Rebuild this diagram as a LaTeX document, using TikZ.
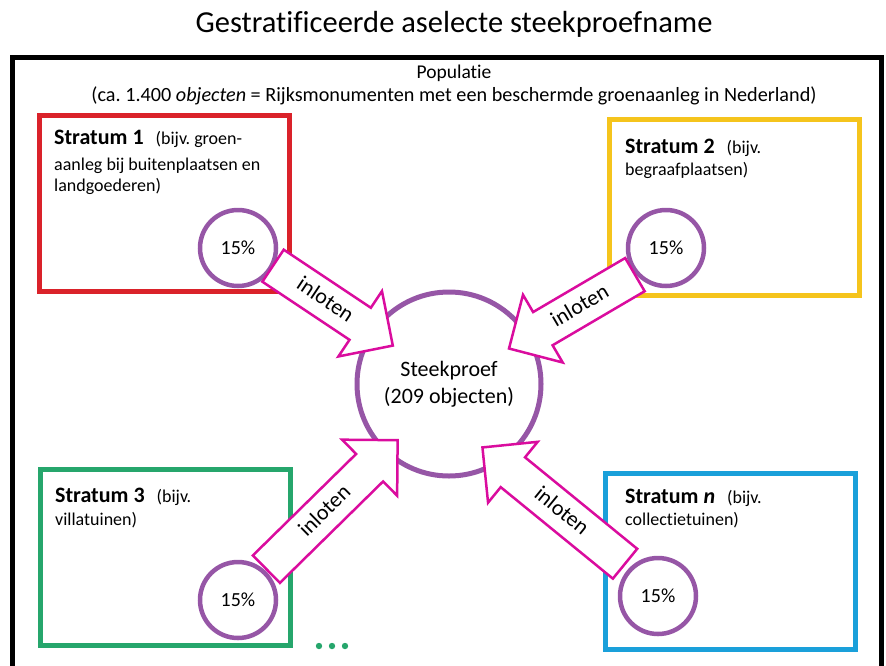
\documentclass[tikz,border=0pt]{standalone}
\usepackage{fontspec}
\setmainfont{Carlito}[RawFeature={-liga;-clig;-dlig;-calt;-hlig}]
\usetikzlibrary{shapes.arrows}
\frenchspacing

\newlength{\du}
\setlength{\du}{1pt}

\definecolor{stratred}{RGB}{218,34,42}
\definecolor{stratyellow}{RGB}{245,196,28}
\definecolor{stratgreen}{RGB}{38,166,108}
\definecolor{stratblue}{RGB}{26,160,218}
\definecolor{ringpurple}{RGB}{150,86,166}
\definecolor{lotmagenta}{RGB}{218,12,158}

\tikzset{
  stratum/.style={draw, line width=5\du, minimum width=250\du, minimum height=176\du, inner sep=0pt},
  ring/.style={circle, draw=ringpurple, line width=4.5\du, minimum size=76\du, inner sep=0pt, font=\fontsize{20}{24}\selectfont},
  inlot/.style={single arrow, draw=lotmagenta, fill=white, line width=2.5\du, single arrow head extend=20\du, inner xsep=4\du, inner ysep=10\du, text height=14\du, text depth=2\du, font=\fontsize{22}{26}\selectfont},
  boxline/.style={anchor=base west, inner sep=0pt, font=\fontsize{18}{22}\selectfont},
  headline/.style={anchor=base, inner sep=0pt},
}
\newcommand{\stratumname}[1]{{\fontsize{22}{26}\selectfont\bfseries Stratum #1}\hspace{12\du}}

\begin{document}
\begin{tikzpicture}
\pgftransformxscale{1.000000}
\pgftransformyscale{-1.000000}
\useasboundingbox (0\du,0\du) rectangle (886\du,665\du);
\clip (0\du,0\du) rectangle (886\du,665\du);
% title and population frame
\node[headline, font=\fontsize{30.5}{36}\selectfont] (title) at (454\du,32\du) {Gestratificeerde aselecte steekproefname};
\draw[line width=5\du] (12\du,57\du) rectangle (881\du,700\du);
\node[headline, font=\fontsize{19.5}{23}\selectfont] (pop) at (454\du,78\du) {Populatie};
\node[headline, font=\fontsize{20.2}{24}\selectfont] (popinfo) at (454\du,101\du) {(ca. 1.400 \textit{objecten} = Rijksmonumenten met een beschermde groenaanleg in Nederland)};
% strata
\node[stratum, draw=stratred] (s1) at (164\du,203\du) {};
\node[stratum, draw=stratyellow] (s2) at (734\du,207\du) {};
\node[stratum, draw=stratgreen] (s3) at (165\du,557\du) {};
\node[stratum, draw=stratblue] (sn) at (730\du,561\du) {};
\node[boxline] (s1a) at (54\du,144\du) {\stratumname{1}(bijv. groen-};
\node[boxline] (s1b) at (54\du,170\du) {aanleg bij buitenplaatsen en};
\node[boxline] (s1c) at (54\du,191\du) {landgoederen)};
\node[boxline] (s2a) at (625\du,153\du) {\stratumname{2}(bijv.};
\node[boxline] (s2b) at (625\du,175\du) {begraafplaatsen)};
\node[boxline] (s3a) at (55\du,502\du) {\stratumname{3}(bijv.};
\node[boxline] (s3b) at (55\du,525\du) {villatuinen)};
\node[boxline] (sna) at (625\du,503\du) {\stratumname{\textit{n}}(bijv.};
\node[boxline] (snb) at (625\du,525\du) {collectietuinen)};
% percentages
\node[ring] (r1) at (238\du,248\du) {15\%};
\node[ring] (r2) at (666\du,248\du) {15\%};
\node[ring] (r3) at (238\du,600\du) {15\%};
\node[ring] (rn) at (658\du,596\du) {15\%};
% sample
\node[circle, draw=ringpurple, line width=5\du, minimum size=184\du, align=center, font=\fontsize{22}{27}\selectfont] (sample) at (449\du,384\du) {Steekproef\\(209 objecten)};
% inloten
\node[inlot, anchor=tail, rotate=-33.7, minimum height=144\du] (a1) at (272\du,265\du) {inloten};
\node[inlot, shape border rotate=180, anchor=tail, rotate=30.4, minimum height=146\du] (a2) at (636\du,274\du) {inloten};
\node[inlot, anchor=tail, rotate=44.5, minimum height=184\du] (a3) at (265.5\du,570\du) {inloten};
\node[inlot, shape border rotate=180, anchor=tail, rotate=-39.2, minimum height=184\du] (an) at (626\du,564.5\du) {inloten};
\foreach \x in {319,332,345}
  \fill[stratgreen] (\x\du,646\du) circle (3.2\du);
\end{tikzpicture}
\end{document}
